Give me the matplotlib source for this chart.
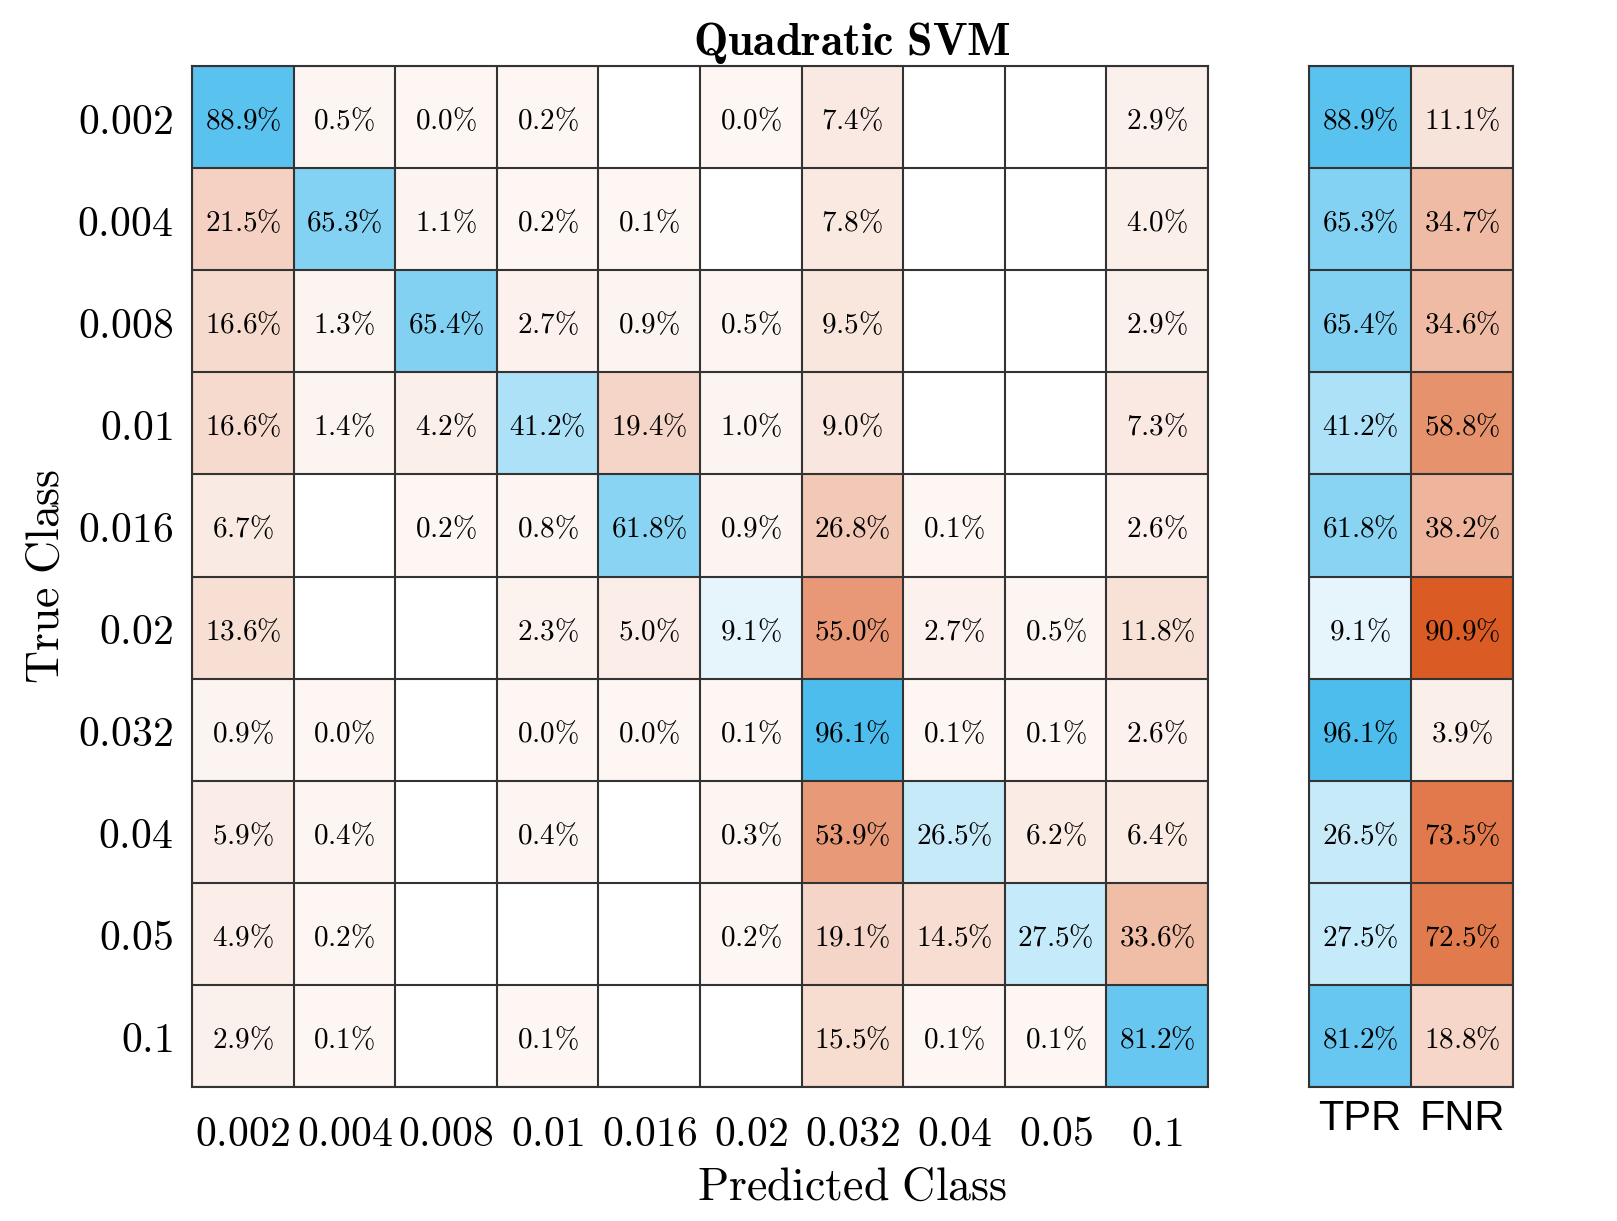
import numpy as np
import matplotlib
matplotlib.use("Agg")
import matplotlib.pyplot as plt

plt.rcParams['mathtext.fontset'] = 'cm'

classes = ['0.002', '0.004', '0.008', '0.01', '0.016', '0.02', '0.032', '0.04', '0.05', '0.1']
nan = np.nan

# row-normalised confusion matrix in percent, nan = no samples in that cell
conf = np.array([
    [88.9, 0.5, 0.0, 0.2, nan, 0.0, 7.4, nan, nan, 2.9],
    [21.5, 65.3, 1.1, 0.2, 0.1, nan, 7.8, nan, nan, 4.0],
    [16.6, 1.3, 65.4, 2.7, 0.9, 0.5, 9.5, nan, nan, 2.9],
    [16.6, 1.4, 4.2, 41.2, 19.4, 1.0, 9.0, nan, nan, 7.3],
    [6.7, nan, 0.2, 0.8, 61.8, 0.9, 26.8, 0.1, nan, 2.6],
    [13.6, nan, nan, 2.3, 5.0, 9.1, 55.0, 2.7, 0.5, 11.8],
    [0.9, 0.0, nan, 0.0, 0.0, 0.1, 96.1, 0.1, 0.1, 2.6],
    [5.9, 0.4, nan, 0.4, nan, 0.3, 53.9, 26.5, 6.2, 6.4],
    [4.9, 0.2, nan, nan, nan, 0.2, 19.1, 14.5, 27.5, 33.6],
    [2.9, 0.1, nan, 0.1, nan, nan, 15.5, 0.1, 0.1, 81.2],
])

tpr = [88.9, 65.3, 65.4, 41.2, 61.8, 9.1, 96.1, 26.5, 27.5, 81.2]
fnr = [11.1, 34.7, 34.6, 58.8, 38.2, 90.9, 3.9, 73.5, 72.5, 18.8]
summary_labels = ['TPR', 'FNR']

blue = np.array([0.301, 0.745, 0.933])
orange = np.array([0.850, 0.325, 0.098])
vmax = np.nanmax(conf)


def shade(v, base):
    if np.isnan(v):
        return np.ones(3)
    a = 0.05 + 0.95 * v / vmax
    return 1 - a * (1 - base)


def draw_cells(ax, vals, bases):
    nr, nc = vals.shape
    rgb = np.zeros((nr, nc, 3))
    for i in range(nr):
        for j in range(nc):
            rgb[i, j] = shade(vals[i, j], bases[i][j])
            if not np.isnan(vals[i, j]):
                ax.text(j, i + 0.04, r'$\mathrm{%.1f\%%}$' % vals[i, j], ha='center', va='center',
                        fontsize=21, color='black')
    ax.imshow(rgb, aspect='auto', interpolation='nearest')
    ax.set_xticks(np.arange(nc + 1) - 0.5, minor=True)
    ax.set_yticks(np.arange(nr + 1) - 0.5, minor=True)
    ax.grid(which='minor', color='#333333', lw=1.5)
    ax.tick_params(which='both', length=0)
    for s in ax.spines.values():
        s.set_color('#333333')
        s.set_linewidth(1.5)


W, H = 1617, 1221
fig = plt.figure(figsize=(W / 100, H / 100), dpi=100)
ax = fig.add_axes([192 / W, (H - 1087) / H, 1016 / W, 1021 / H])
ax2 = fig.add_axes([1309 / W, (H - 1087) / H, 204 / W, 1021 / H])

n = len(classes)
bases = [[blue if i == j else orange for j in range(n)] for i in range(n)]
draw_cells(ax, conf, bases)
ax.set_xticks(range(n))
ax.set_xticklabels([r'$\mathrm{%s}$' % c for c in classes], fontsize=30)
ax.set_yticks(range(n))
ax.set_yticklabels([r'$\mathrm{%s}$' % c for c in classes], fontsize=30)
ax.tick_params(axis='x', pad=19)
ax.tick_params(axis='y', pad=14)

summ = np.column_stack([tpr, fnr])
draw_cells(ax2, summ, [[blue, orange] for _ in range(n)])
ax2.set_xticks([0, 1])
ax2.set_xticklabels(summary_labels, fontsize=30, family='Liberation Sans')
ax2.set_yticks([])
ax2.tick_params(axis='x', pad=9)

fig.text(852 / W, 1 - 43 / H, r'$\mathbf{Quadratic\ SVM}$', ha='center', va='center', fontsize=33)
fig.text(852 / W, 1 - 1187 / H, r'$\mathrm{Predicted\ Class}$', ha='center', va='center', fontsize=33)
fig.text(46 / W, 1 - 576 / H, r'$\mathrm{True\ Class}$', ha='center', va='center', fontsize=33,
         rotation=90)

fig.savefig('out.png', dpi=100)
